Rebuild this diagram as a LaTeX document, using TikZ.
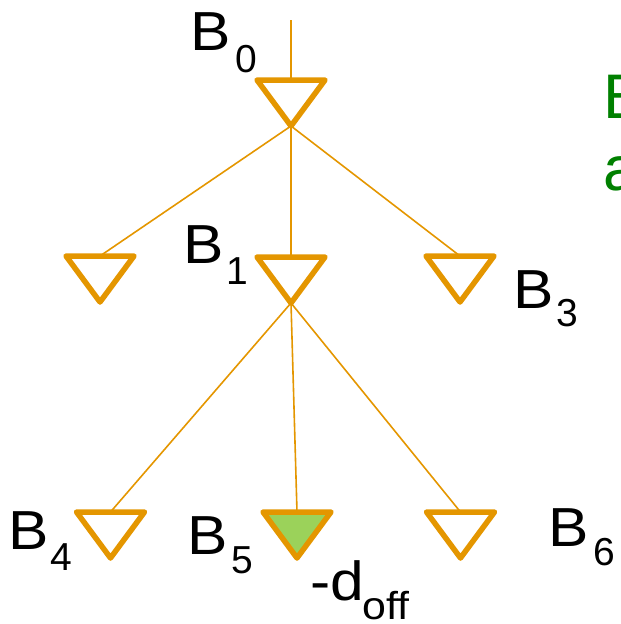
\documentclass[tikz,border=0pt]{standalone}
\usepackage{fontspec}
\setmainfont{Liberation Sans}
\definecolor{tree}{RGB}{228,150,0}
\definecolor{leaf}{RGB}{155,210,90}
\definecolor{note}{RGB}{0,128,0}
\newcommand{\wide}[1]{\scalebox{1.1}[1]{#1}}
\begin{document}
\begin{tikzpicture}[x=1pt,y=-1pt,
  tri/.style={draw=tree,line width=5.5pt,line join=round,line cap=round},
  link/.style={draw=tree,line width=1.6pt},
  lab/.style={anchor=base west,inner sep=0pt,font=\fontsize{55}{60}\selectfont},
  sub/.style={anchor=base west,inner sep=0pt,font=\fontsize{39}{44}\selectfont},
  green/.style={anchor=base west,inner sep=0pt,text=note,font=\fontsize{63}{70}\selectfont}]
\clip (0,0) rectangle (621,624);
\useasboundingbox (0,0) rectangle (621,624);
% triangles: top centre (tX) and apex (aX)
\newcommand{\mytri}[4][]{%
  \coordinate (t#2) at (#3,#4);
  \coordinate (a#2) at (#3,#4+46);
  \path[tri,#1] (#3-34,#4) -- (#3+34,#4) -- (#3,#4+46) -- cycle;}
\coordinate (stem) at (291,20);
\mytri{0}{291}{80}
\mytri{L}{100}{256}
\mytri{M}{291}{257}
\mytri{R}{460}{256}
\mytri{4}{110.5}{512}
\mytri[fill=leaf]{5}{297}{512}
\mytri{6}{460.5}{512}
% connectors
\draw[link] (stem) -- (t0);
\draw[link] (a0) -- (tL);
\draw[link] (a0) -- (tM);
\draw[link] (a0) -- (tR);
\draw[link] (aM) -- (t4);
\draw[link] (aM) -- (t5);
\draw[link] (aM) -- (t6);
% labels
\node[lab] (b0) at (190,50) {\wide{B}};
\node[sub] (s0) at (235,72) {0};
\node[lab] (b1) at (183,263) {\wide{B}};
\node[sub] (s1) at (226,284) {1};
\node[lab] (b3) at (513,308) {\wide{B}};
\node[sub] (s3) at (556,326) {3};
\node[lab] (b4) at (8,549) {\wide{B}};
\node[sub] (s4) at (50,570) {4};
\node[lab] (b5) at (187,554) {\wide{B}};
\node[sub] (s5) at (231,573) {5};
\node[lab] (b6) at (548,546) {\wide{B}};
\node[sub] (s6) at (593,565) {6};
\node[lab] (dm) at (310,600) {\wide{-d}};
\node[sub] (doff) at (362,619) {\wide{off}};
\node[green] (g1) at (603,118) {B};
\node[green] (g2) at (603,190) {a};
\end{tikzpicture}
\end{document}
